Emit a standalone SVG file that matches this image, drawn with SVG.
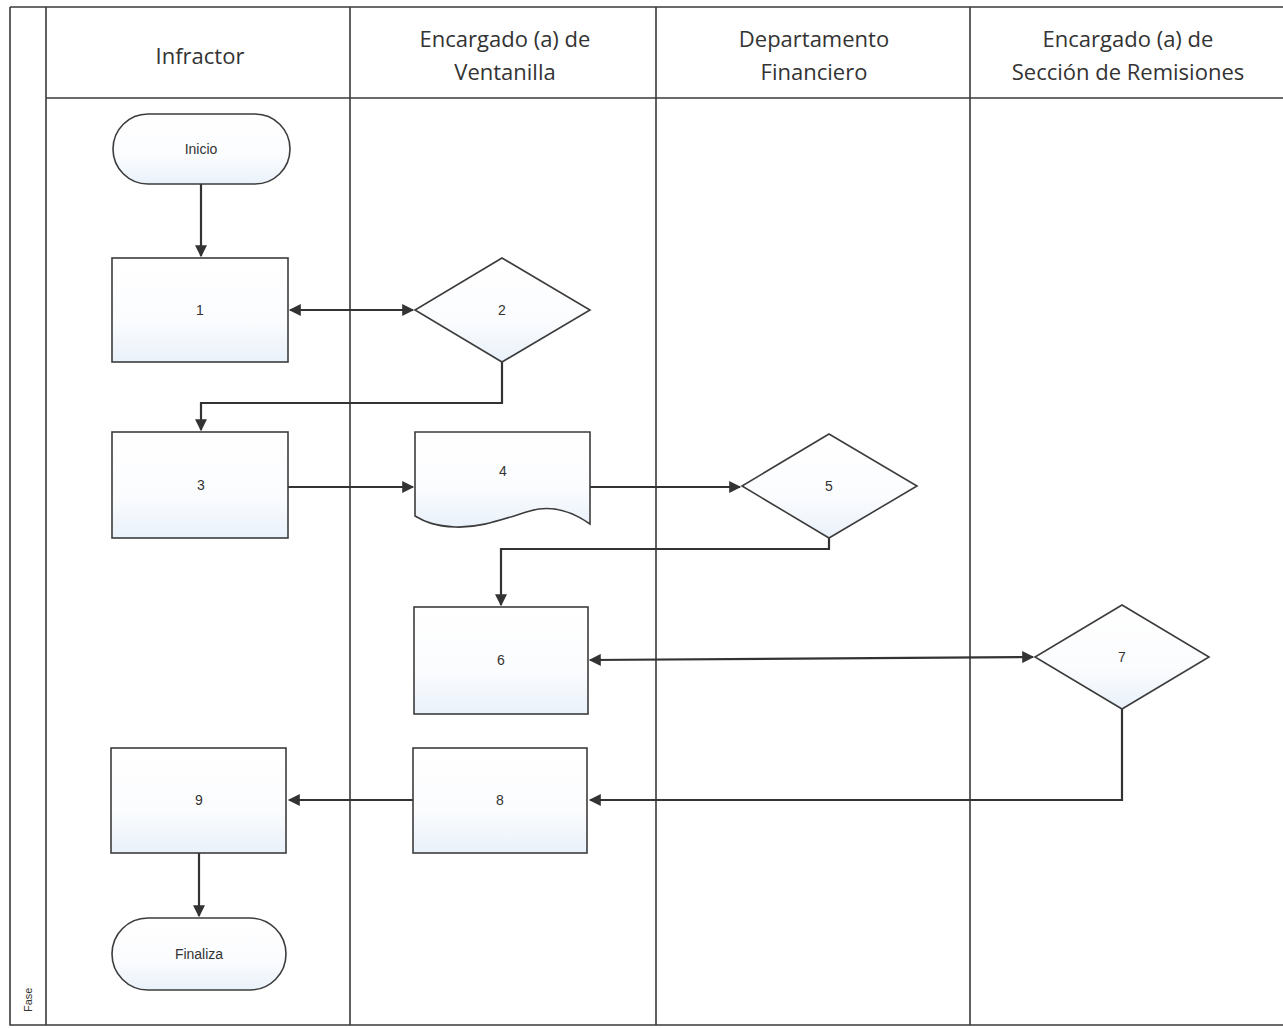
<svg xmlns="http://www.w3.org/2000/svg" width="1283" height="1028" viewBox="0 0 1283 1028">
<style>
.lane{stroke:#3a3a3a;stroke-width:1.6;fill:none}
.hdr{font-family:"Open Sans","Liberation Sans",sans-serif;font-size:22px;fill:#333;text-anchor:middle}
.shape{fill:url(#g);stroke:#3c3c3c;stroke-width:1.6}
.lbl{font-family:"Liberation Sans",sans-serif;font-size:14px;fill:#333;text-anchor:middle;dominant-baseline:middle}
.conn{stroke:#333;stroke-width:2.2;fill:none}
</style>
<defs>
<linearGradient id="g" x1="0" y1="0" x2="0" y2="1">
<stop offset="0" stop-color="#ffffff"/>
<stop offset="0.6" stop-color="#fbfcfe"/>
<stop offset="1" stop-color="#e9f1fa"/>
</linearGradient>
<marker id="ah" viewBox="0 0 10 10" refX="9" refY="5" markerWidth="13" markerHeight="12" orient="auto-start-reverse" markerUnits="userSpaceOnUse">
<path d="M0,0 L10,5 L0,10 z" fill="#333"/>
</marker>
</defs>
<rect width="1283" height="1028" fill="#fff"/>
<g id="frame">
<path class="lane" d="M10,7 H1283 M10,7 V1025 H1283 M46,7 V1025 M46,98 H1283 M350,7 V1025 M656,7 V1025 M970,7 V1025"/>
<text x="200" y="64" class="hdr">Infractor</text>
<text x="505" y="47" class="hdr">Encargado (a) de</text>
<text x="505" y="80" class="hdr">Ventanilla</text>
<text x="814" y="47" class="hdr">Departamento</text>
<text x="814" y="80" class="hdr">Financiero</text>
<text x="1128" y="47" class="hdr">Encargado (a) de</text>
<text x="1128" y="80" class="hdr">Sección de Remisiones</text>
<text x="0" y="0" transform="translate(32,1012) rotate(-90)" font-family="Liberation Sans,sans-serif" font-size="11" fill="#333">Fase</text>
</g>
<g id="connectors">
<path class="conn" d="M201,184 V256" marker-end="url(#ah)"/>
<path class="conn" d="M290,310 H413" marker-start="url(#ah)" marker-end="url(#ah)"/>
<path class="conn" d="M502,362 V403 H201 V430" marker-end="url(#ah)"/>
<path class="conn" d="M288,487 H413" marker-end="url(#ah)"/>
<path class="conn" d="M590,487 H740" marker-end="url(#ah)"/>
<path class="conn" d="M829,538 V549 H501 V605" marker-end="url(#ah)"/>
<path class="conn" d="M590,660 L1033,657" marker-start="url(#ah)" marker-end="url(#ah)"/>
<path class="conn" d="M1122,709 V800 H590" marker-end="url(#ah)"/>
<path class="conn" d="M413,800 H289" marker-end="url(#ah)"/>
<path class="conn" d="M199,853 V916" marker-end="url(#ah)"/>
</g>
<g id="inicio">
<rect class="shape" x="113" y="114" width="177" height="70" rx="35" ry="35"/>
<text class="lbl" x="201" y="150">Inicio</text>
</g>
<g id="n1">
<rect class="shape" x="112" y="258" width="176" height="104"/>
<text class="lbl" x="200" y="311">1</text>
</g>
<g id="n2">
<polygon class="shape" points="502,258 590,310 502,362 415,310"/>
<text class="lbl" x="502" y="311">2</text>
</g>
<g id="n3">
<rect class="shape" x="112" y="432" width="176" height="106"/>
<text class="lbl" x="201" y="486">3</text>
</g>
<g id="n4">
<path class="shape" d="M415,432 H590 V524 C570,510 550,505 530,511 C500,520 480,528 455,527 C435,526 425,522 415,516 Z"/>
<text class="lbl" x="503" y="472">4</text>
</g>
<g id="n5">
<polygon class="shape" points="829,434 917,486 829,538 742,486"/>
<text class="lbl" x="829" y="487">5</text>
</g>
<g id="n6">
<rect class="shape" x="414" y="607" width="174" height="107"/>
<text class="lbl" x="501" y="661">6</text>
</g>
<g id="n7">
<polygon class="shape" points="1122,605 1209,657 1122,709 1035,657"/>
<text class="lbl" x="1122" y="658">7</text>
</g>
<g id="n8">
<rect class="shape" x="413" y="748" width="174" height="105"/>
<text class="lbl" x="500" y="801">8</text>
</g>
<g id="n9">
<rect class="shape" x="111" y="748" width="175" height="105"/>
<text class="lbl" x="199" y="801">9</text>
</g>
<g id="finaliza">
<rect class="shape" x="112" y="918" width="174" height="72" rx="36" ry="36"/>
<text class="lbl" x="199" y="955">Finaliza</text>
</g>
</svg>
